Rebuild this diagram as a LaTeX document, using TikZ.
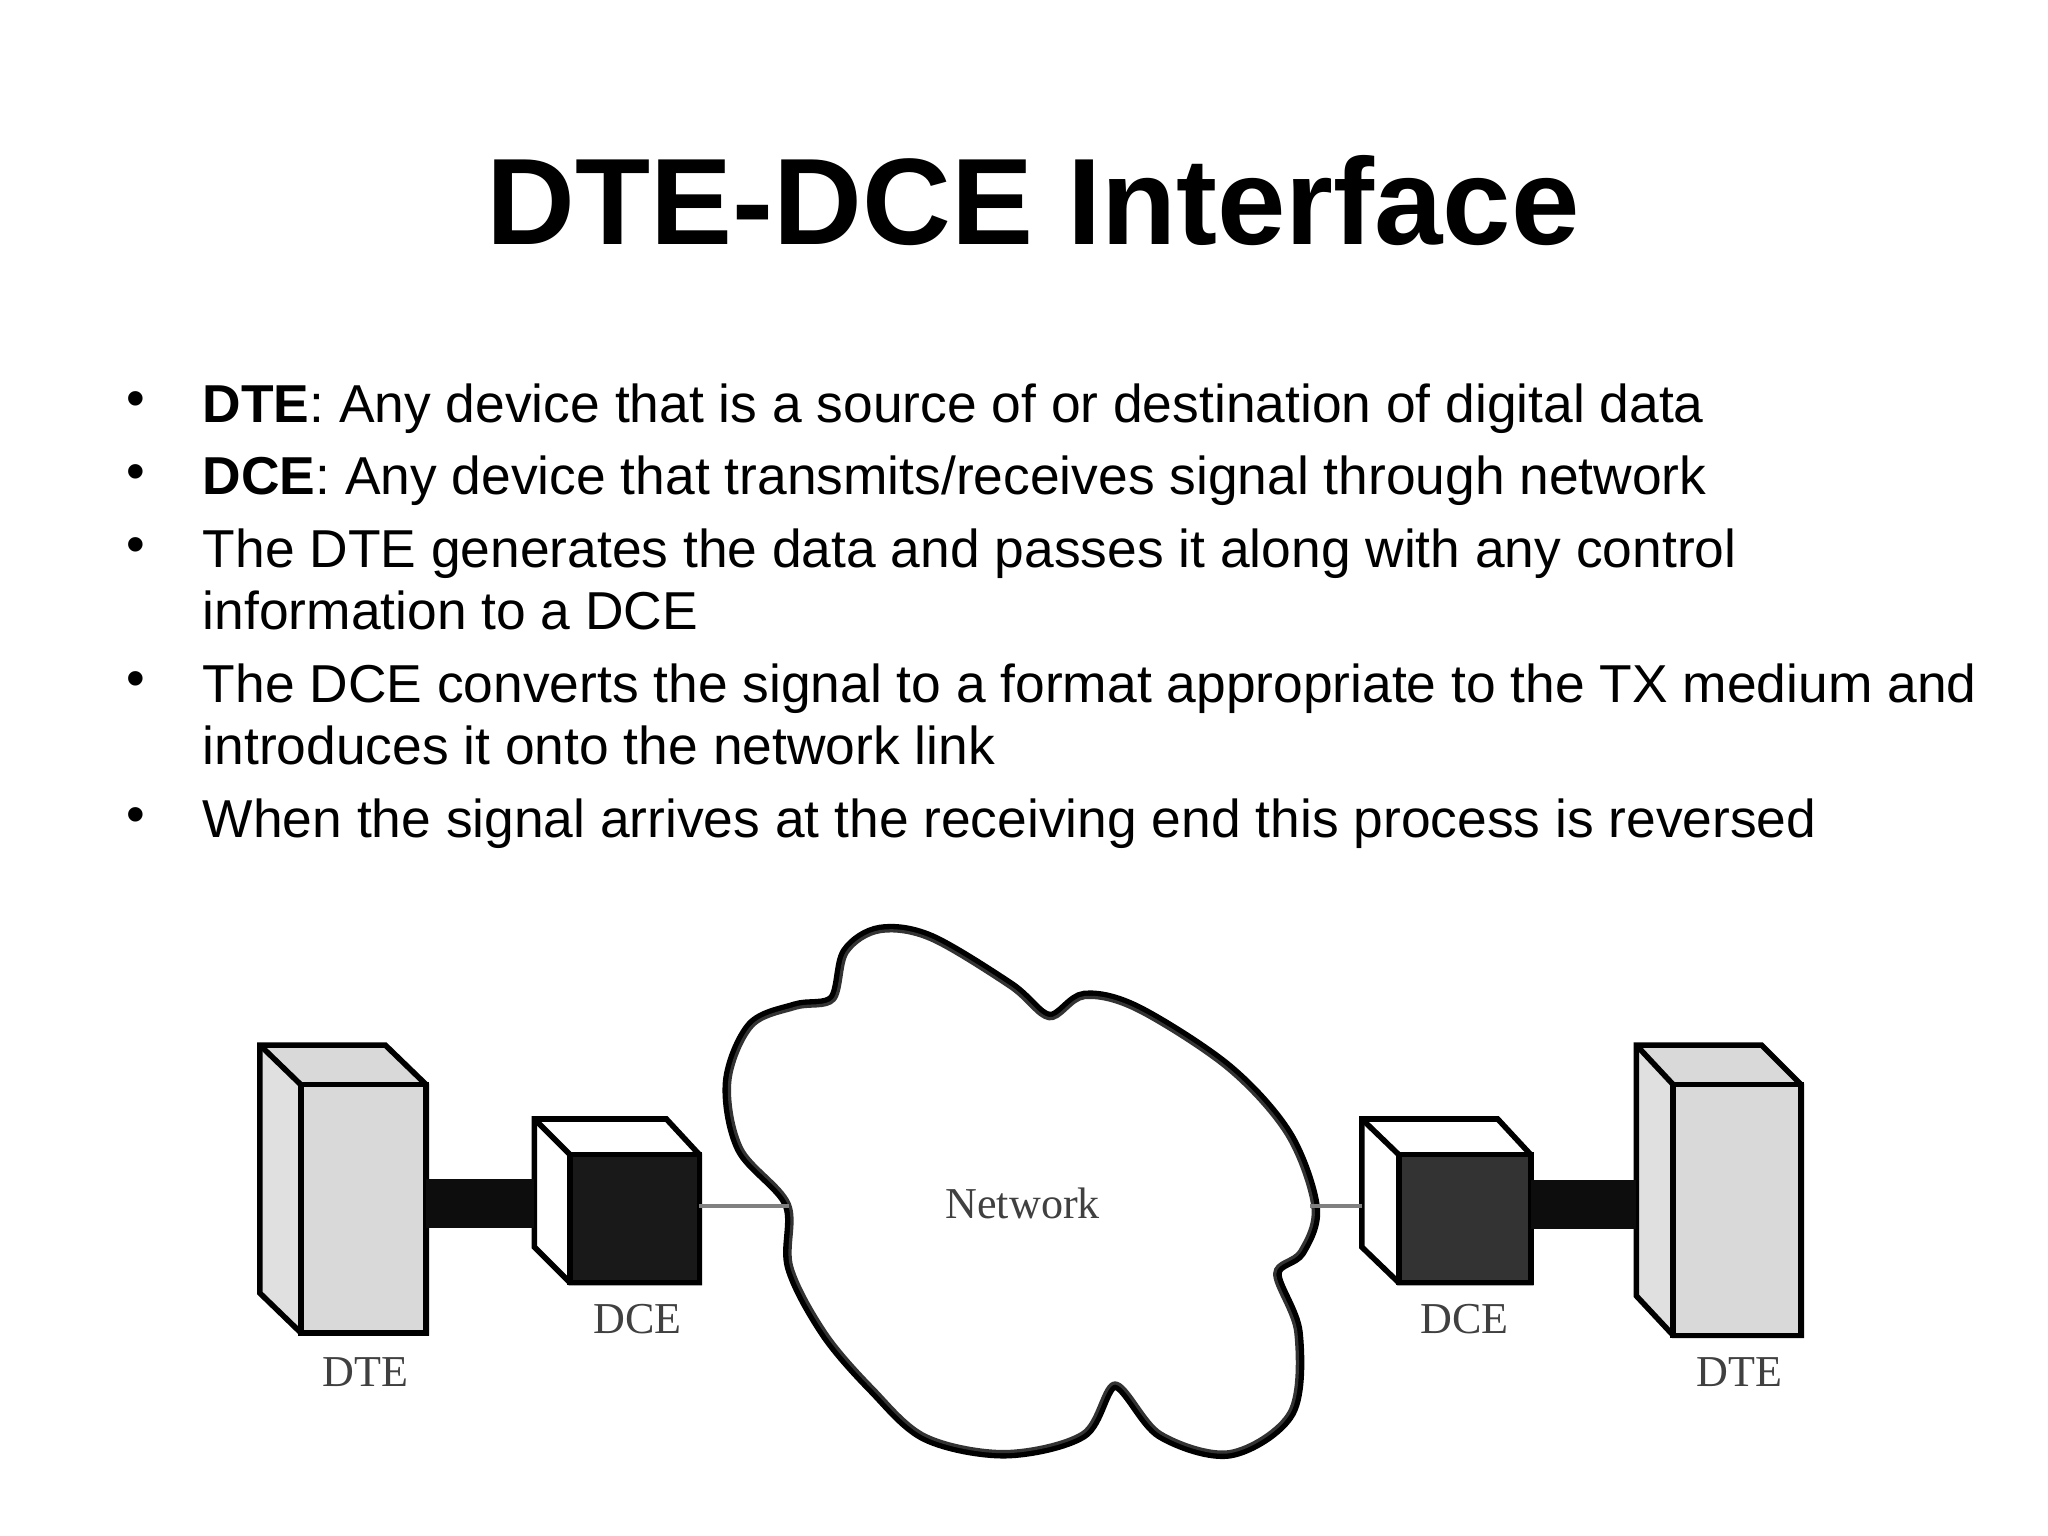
\documentclass[tikz,border=0pt]{standalone}
\usepackage{fontspec}
\setmainfont{Liberation Sans}
\newfontfamily\serifd{Liberation Serif}
\begin{document}
\begin{tikzpicture}[x=0.01cm,y=-0.01cm,
  body/.style={anchor=base west,font=\fontsize{11.5}{13.4}\selectfont,inner sep=0},
  bul/.style={anchor=base,font=\fontsize{11.5}{13.4}\selectfont,inner sep=0},
  lbl/.style={font=\serifd\fontsize{9.5}{11}\selectfont,text=black!75,inner sep=0},
  box/.style={draw=black,line width=1.2pt}]
\useasboundingbox (0,0) rectangle (1552,1164);
\fill[white] (0,0) rectangle (1552,1164);
\node[anchor=base,font=\bfseries\fontsize{26.5}{30}\selectfont,inner sep=0] (title) at (783,185) {DTE-DCE Interface};
\foreach \y/\n in {320/b1,375/b2,430/b3,532/b4,635/b5}{\node[bul] (\n) at (103,\y-4) {\textbullet};}
\node[body] (t1) at (153,320) {\textbf{DTE}: Any device that is a source of or destination of digital data};
\node[body] (t2) at (153,375) {\textbf{DCE}: Any device that transmits/receives signal through network};
\node[body] (t3) at (153,430) {The DTE generates the data and passes it along with any control};
\node[body] (t3b) at (153,477) {information to a DCE};
\node[body] (t4) at (153,532) {The DCE converts the signal to a format appropriate to the TX medium and};
\node[body] (t4b) at (153,579) {introduces it onto the network link};
\node[body] (t5) at (153,635) {When the signal arrives at the receiving end this process is reversed};
% cloud
\def\cloudpts{(598,912) (562,870) (553,820) (570,778) (603,764) (632,758) (642,722) (667,706) (705,712) (765,748) (795,772) (822,756) (862,766) (930,810) (975,860) (995,915) (985,948) (966,965) (982,1010) (977,1070) (932,1100) (880,1086) (845,1048) (820,1086) (762,1100) (702,1088) (662,1052) (626,1010) (600,960)}
\draw[line width=3pt,black] plot[smooth cycle,tension=0.55] coordinates {\cloudpts};
\fill[white] plot[smooth cycle,tension=0.55] coordinates {\cloudpts};
\draw[line width=0.7pt,black!80] plot[smooth cycle,tension=0.55] coordinates {\cloudpts};
\node[lbl,font=\serifd\fontsize{9.5}{11}\selectfont] (net) at (775,912) {Network};
\coordinate (cl) at (598,914);
\coordinate (cr) at (993,914);
% left DTE
\fill[black!15] (197,792) -- (292,792) -- (323,822) -- (228,822) -- cycle;
\fill[black!12] (197,792) -- (228,822) -- (228,1010) -- (197,980) -- cycle;
\draw[box] (197,792) -- (292,792) -- (323,822) -- (323,1010) -- (228,1010) -- (197,980) -- cycle;
\draw[box,fill=black!15] (228,822) rectangle (323,1010);
\draw[box] (197,792) -- (228,822);
\node[lbl] (dte1) at (277,1040) {DTE};
% right DTE
\fill[black!15] (1240,792) -- (1335,792) -- (1365,822) -- (1268,822) -- cycle;
\fill[black!12] (1240,792) -- (1268,822) -- (1268,1012) -- (1240,982) -- cycle;
\draw[box] (1240,792) -- (1335,792) -- (1365,822) -- (1365,1012) -- (1268,1012) -- (1240,982) -- cycle;
\draw[box,fill=black!15] (1268,822) rectangle (1365,1012);
\draw[box] (1240,792) -- (1268,822);
\node[lbl] (dte2) at (1318,1040) {DTE};
% left DCE
\draw[box,fill=white] (405,848) -- (505,848) -- (530,875) -- (530,972) -- (432,972) -- (405,945) -- cycle;
\draw[box,fill=black!90] (432,875) rectangle (530,972);
\draw[box] (405,848) -- (432,875);
\node[lbl] (dce1) at (483,1000) {DCE};
% right DCE
\draw[box,fill=white] (1032,848) -- (1135,848) -- (1160,875) -- (1160,972) -- (1060,972) -- (1032,945) -- cycle;
\draw[box,fill=black!80] (1060,875) rectangle (1160,972);
\draw[box] (1032,848) -- (1060,875);
\node[lbl] (dce2) at (1110,1000) {DCE};
% connectors
\coordinate (b1a) at (323,912); \coordinate (b1b) at (405,912);
\draw[line width=10.5pt,black!95] (b1a) -- (b1b);
\coordinate (b2a) at (1160,913); \coordinate (b2b) at (1240,913);
\draw[line width=10.5pt,black!95] (b2a) -- (b2b);
\coordinate (d1) at (530,914); \coordinate (d2) at (1032,914);
\draw[line width=0.8pt,black!50] (d1) -- (cl);
\draw[line width=0.8pt,black!50] (cr) -- (d2);
\end{tikzpicture}
\end{document}
